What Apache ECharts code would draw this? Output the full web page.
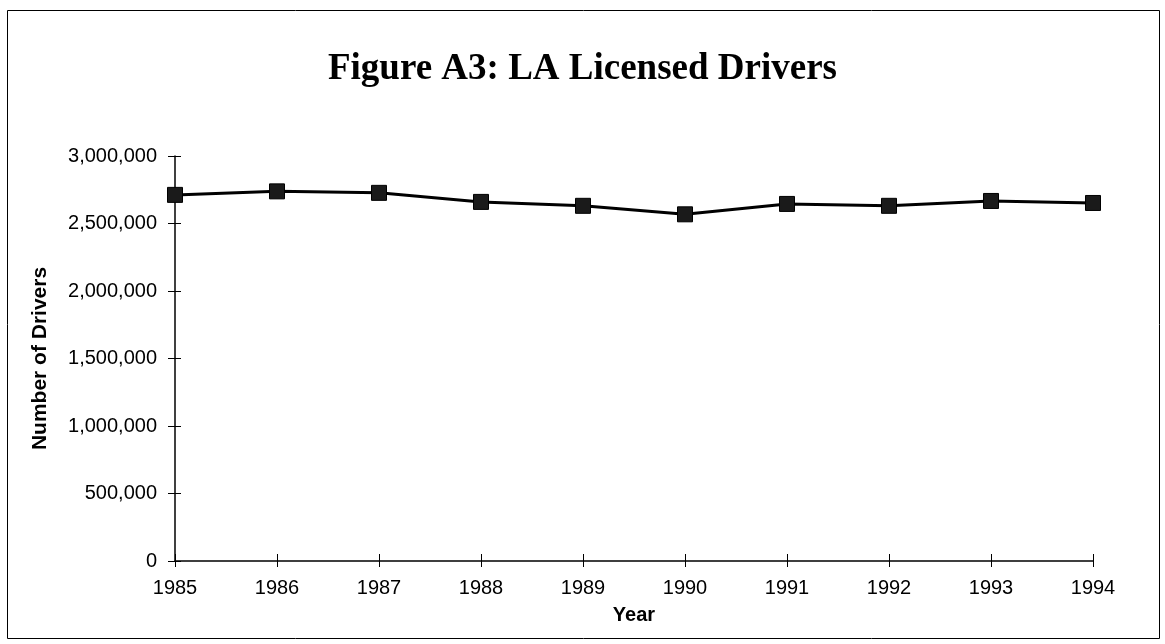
<!DOCTYPE html>
<html>
<head>
<meta charset="utf-8">
<script src="https://cdn.jsdelivr.net/npm/echarts@6/dist/echarts.min.js"></script>
<style>
  html, body { margin: 0; padding: 0; background: #fff; }
  #chart { width: 1165px; height: 644px; }
</style>
</head>
<body>
<div id="chart"></div>
<script>
    // data
    var years = ['1985', '1986', '1987', '1988', '1989', '1990', '1991', '1992', '1993', '1994'];
    var drivers = [2712000, 2738000, 2727000, 2660000, 2631000, 2568000, 2645000, 2631000, 2667000, 2652000];

    var chart = echarts.init(document.getElementById('chart'));

    var labelFont = { fontFamily: 'Liberation Sans', fontSize: 20, color: '#000' };
    var nameFont = { fontFamily: 'Liberation Sans', fontWeight: 'bold', color: '#000' };

    function commas(v) {
        return v.toString().replace(/\B(?=(\d{3})+(?!\d))/g, ',');
    }

    chart.setOption({
        backgroundColor: '#fff',
        animation: false,
        title: {
            text: 'Figure A3: LA Licensed Drivers',
            left: 'center',
            top: 46,
            textStyle: {
                fontFamily: 'Liberation Serif',
                fontWeight: 'bold',
                fontSize: 37,
                color: '#000'
            }
        },
        graphic: [{
            type: 'rect',
            shape: { x: 7.5, y: 10.5, width: 1152, height: 628 },
            style: { fill: 'none', stroke: '#000', lineWidth: 1 }
        }],
        grid: { left: 175, right: 72, top: 156, bottom: 83 },
        xAxis: [{
            type: 'category',
            data: years,
            boundaryGap: false,
            name: 'Year',
            nameLocation: 'middle',
            nameGap: 44,
            nameTextStyle: Object.assign({ fontSize: 20 }, nameFont),
            axisLine: { lineStyle: { color: '#000', width: 1.5 } },
            axisTick: { alignWithLabel: true, length: 6, lineStyle: { color: '#000' } },
            axisLabel: Object.assign({ margin: 17 }, labelFont)
        }, {
            // second copy only to draw the part of each tick above the axis
            type: 'category',
            data: years,
            boundaryGap: false,
            position: 'bottom',
            axisLine: { show: false },
            axisTick: { inside: true, length: 7, lineStyle: { color: '#000' } },
            axisLabel: { show: false }
        }],
        yAxis: [{
            type: 'value',
            min: 0,
            max: 3000000,
            interval: 500000,
            name: 'Number of Drivers',
            nameLocation: 'middle',
            nameGap: 124,
            nameTextStyle: Object.assign({ fontSize: 21 }, nameFont),
            axisLine: { show: true, lineStyle: { color: '#000', width: 1.5 } },
            axisTick: { show: true, length: 7, lineStyle: { color: '#000' } },
            splitLine: { show: false },
            axisLabel: Object.assign({ margin: 18, formatter: commas }, labelFont)
        }, {
            type: 'value',
            min: 0,
            max: 3000000,
            interval: 500000,
            position: 'left',
            axisLine: { show: false },
            axisTick: { show: true, inside: true, length: 6, lineStyle: { color: '#000' } },
            splitLine: { show: false },
            axisLabel: { show: false }
        }],
        series: [{
            type: 'line',
            data: drivers,
            symbol: 'rect',
            symbolSize: 15,
            lineStyle: { color: '#000', width: 3 },
            itemStyle: { color: '#1a1a1a', borderColor: '#000', borderWidth: 1 }
        }]
    });
</script>
</body>
</html>
